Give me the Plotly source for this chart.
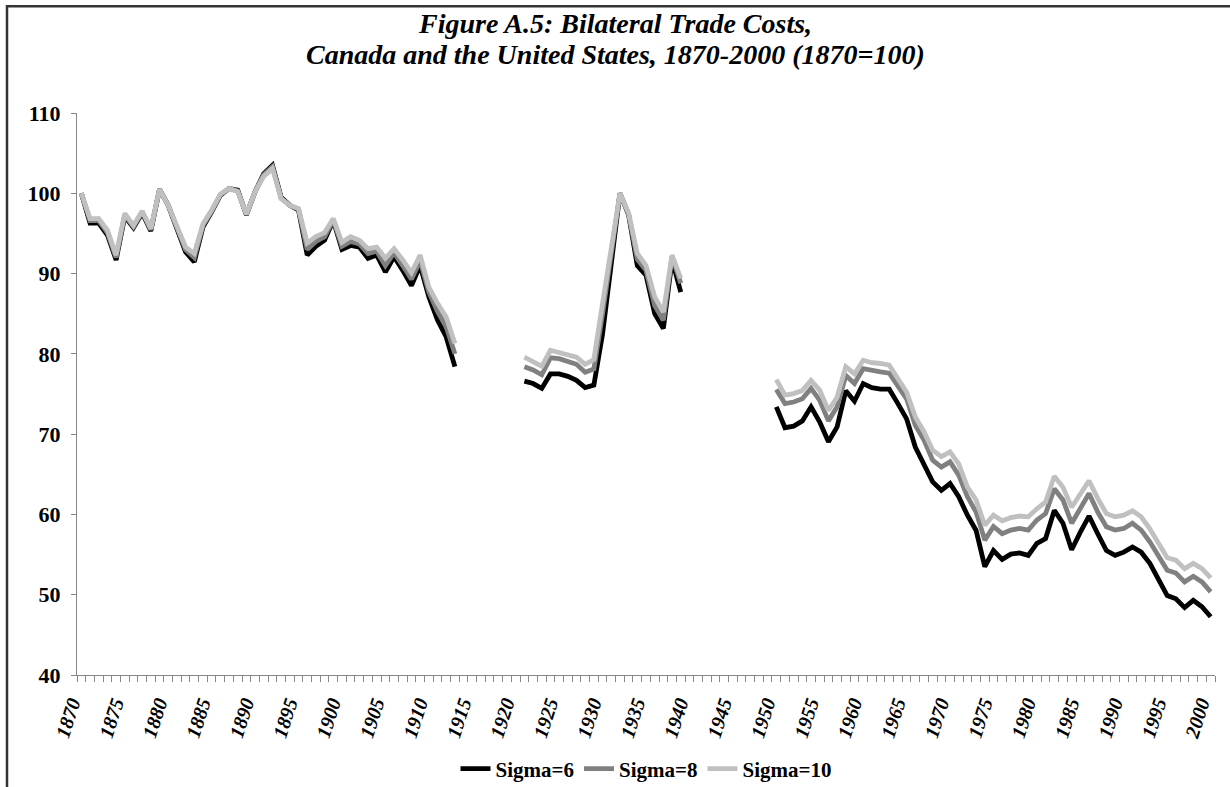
import plotly.graph_objects as go

# ---------------- data ----------------
years = list(range(1870, 2001))

# Sigma = 6 (black)
s6_1870_1913 = [100.0, 96.3, 96.3, 94.8, 91.7, 97.1, 95.7, 97.55, 95.3, 100.5,
                98.5, 95.8, 92.7, 91.45, 95.8, 97.7, 99.75, 100.6, 100.4, 97.3,
                100.2, 102.45, 103.5, 99.5, 98.5, 97.9, 92.3, 93.4, 94.15, 96.6,
                93.0, 93.5, 93.3, 91.9, 92.3, 90.2, 92.1, 90.4, 88.5, 91.0,
                87.1, 84.2, 82.1, 78.4]
s6_1921_1939 = [76.6, 76.3, 75.7, 77.5, 77.5, 77.2, 76.7, 75.8, 76.1, 82.5,
                91.2, 100.0, 97.3, 91.0, 89.8, 85.0, 83.15, 91.7, 87.7]
s6_1950_2000 = [73.4, 70.8, 71.0, 71.65, 73.4, 71.5, 69.05, 70.9, 75.4, 74.1,
                76.3, 75.8, 75.6, 75.6, 73.8, 71.9, 68.4, 66.3, 64.05, 63.0,
                63.85, 62.2, 59.9, 58.0, 53.5, 55.5, 54.4, 55.05, 55.2, 54.9,
                56.4, 57.0, 60.5, 58.9, 55.6, 57.8, 59.8, 57.6, 55.5, 54.9,
                55.3, 55.95, 55.3, 53.9, 51.8, 49.9, 49.5, 48.4, 49.3, 48.5,
                47.25]

# Sigma = 8 (mid grey)
s8_1870_1913 = [100.0, 96.6, 96.6, 95.1, 92.0, 97.3, 95.85, 97.7, 95.45, 100.5,
                98.5, 95.9, 93.0, 92.0, 96.0, 97.8, 99.8, 100.6, 100.3, 97.35,
                100.2, 102.3, 103.3, 99.4, 98.5, 98.0, 93.0, 94.0, 94.6, 96.7,
                93.4, 94.0, 93.7, 92.5, 92.8, 91.0, 92.6, 91.0, 89.3, 91.6,
                87.7, 85.3, 83.4, 80.0]
s8_1921_1939 = [78.4, 78.0, 77.4, 79.5, 79.4, 79.1, 78.7, 77.7, 78.1, 85.0,
                92.5, 100.0, 97.4, 91.8, 90.4, 86.0, 84.2, 92.1, 88.8]
s8_1950_2000 = [75.55, 73.8, 74.0, 74.4, 75.7, 74.2, 71.65, 73.4, 77.3, 76.3,
                78.15, 77.9, 77.75, 77.6, 75.9, 74.4, 71.1, 69.25, 66.75, 65.9,
                66.55, 64.9, 62.2, 60.3, 56.8, 58.5, 57.6, 58.05, 58.25, 58.05,
                59.3, 60.1, 63.2, 61.8, 58.9, 60.75, 62.6, 60.3, 58.45, 58.05,
                58.25, 58.9, 58.05, 56.6, 54.7, 53.05, 52.7, 51.6, 52.3, 51.6,
                50.35]

# Sigma = 10 (light grey)
s10_1870_1913 = [100.0, 96.85, 96.85, 95.4, 92.3, 97.5, 96.0, 97.8, 95.6, 100.5,
                 98.5, 96.0, 93.3, 92.5, 96.2, 97.9, 99.9, 100.6, 100.2, 97.4,
                 100.2, 102.1, 103.1, 99.3, 98.5, 98.1, 93.8, 94.6, 95.1, 96.85,
                 93.9, 94.6, 94.15, 93.1, 93.3, 91.9, 93.1, 91.7, 90.1, 92.3,
                 88.3, 86.3, 84.6, 81.3]
s10_1921_1939 = [79.6, 79.1, 78.45, 80.45, 80.2, 80.0, 79.6, 78.7, 79.3, 86.3,
                 93.3, 100.0, 97.5, 92.5, 91.0, 87.1, 85.2, 92.3, 89.4]
s10_1950_2000 = [76.8, 74.85, 75.05, 75.45, 76.7, 75.45, 72.95, 74.6, 78.4, 77.5,
                 79.2, 78.9, 78.8, 78.6, 76.9, 75.25, 72.15, 70.3, 68.0, 67.2,
                 67.8, 66.3, 63.4, 61.8, 58.65, 59.9, 59.2, 59.6, 59.8, 59.7,
                 60.7, 61.55, 64.75, 63.4, 60.9, 62.6, 64.2, 62.0, 60.1, 59.7,
                 59.9, 60.45, 59.7, 58.2, 56.4, 54.6, 54.3, 53.25, 53.9, 53.25,
                 52.1]

tick_years = list(range(1870, 2001, 5))
tick_text = [str(y) for y in tick_years]
y_ticks = [40, 50, 60, 70, 80, 90, 100, 110]

series_names = ["Sigma=6", "Sigma=8", "Sigma=10"]
series_colors = ["#000000", "#808080", "#C0C0C0"]


def full_series(a, b, c):
    gap1 = [None] * (1921 - 1914)
    gap2 = [None] * (1950 - 1940)
    return a + gap1 + b + gap2 + c


series_values = [
    full_series(s6_1870_1913, s6_1921_1939, s6_1950_2000),
    full_series(s8_1870_1913, s8_1921_1939, s8_1950_2000),
    full_series(s10_1870_1913, s10_1921_1939, s10_1950_2000),
]

# ---------------- figure ----------------
SERIF = "Liberation Serif"
W, H = 1230, 787
L, R, T, B = 77, 1215, 112.7, 674.8  # plot-area pixel box
PW, PH = R - L, B - T


def px_x(px):
    return (px - L) / PW


def px_y(py):
    return (B - py) / PH


fig = go.Figure()
for name, col, vals in zip(series_names, series_colors, series_values):
    fig.add_trace(go.Scatter(
        x=years, y=vals, name=name, mode="lines",
        line=dict(color=col, width=4.8),
        connectgaps=False,
    ))

axis_grey = "#868686"
title_font = dict(family=SERIF, size=28, color="black", weight="bold", style="italic")
fig.update_layout(
    width=W, height=H,
    margin=dict(l=L, r=W - R, t=T, b=H - B, autoexpand=False),
    paper_bgcolor="white", plot_bgcolor="white",
    showlegend=True,
    legend=dict(orientation="h", x=0.5, xanchor="center",
                yref="container", y=1 - 769 / H, yanchor="middle",
                font=dict(family=SERIF, size=21, color="black", weight="bold"),
                itemwidth=30, tracegroupgap=0, bgcolor="rgba(0,0,0,0)"),
    xaxis=dict(
        range=[1869.5, 2000.5], showgrid=False, zeroline=False,
        showline=True, linecolor=axis_grey, linewidth=1,
        tickmode="array", tickvals=tick_years, ticktext=tick_text,
        ticks="", tickangle=-72,
        tickfont=dict(family=SERIF, size=20, color="black", weight="bold", style="italic"),
        ticklabelstandoff=8, ticklabelshift=-10,
        minor=dict(ticks="outside", ticklen=6, tickcolor=axis_grey, tickwidth=1,
                   tickmode="linear", tick0=1869.5, dtick=1, showgrid=False),
    ),
    yaxis=dict(
        range=[40, 110], showgrid=False, zeroline=False,
        showline=True, linecolor=axis_grey, linewidth=1,
        tickmode="array", tickvals=y_ticks,
        ticks="outside", ticklen=5, tickcolor=axis_grey,
        tickfont=dict(family=SERIF, size=22, color="black", weight="bold"),
        ticklabelstandoff=6,
    ),
    annotations=[
        dict(text="Figure A.5: Bilateral Trade Costs,", xref="paper", yref="paper",
             x=px_x(615), y=px_y(23), xanchor="center", yanchor="middle",
             showarrow=False, font=title_font),
        dict(text="Canada and the United States, 1870-2000 (1870=100)", xref="paper", yref="paper",
             x=px_x(615), y=px_y(54), xanchor="center", yanchor="middle",
             showarrow=False, font=title_font),
    ],
    shapes=[
        dict(type="rect", xref="paper", yref="paper",
             x0=px_x(7), x1=px_x(1245), y0=px_y(800), y1=px_y(6),
             line=dict(color="#333333", width=2.5), fillcolor="rgba(0,0,0,0)", layer="below"),
    ],
)

fig.write_html("out.html", config={"displayModeBar": False},
               post_script="document.body.style.margin='0px';")
